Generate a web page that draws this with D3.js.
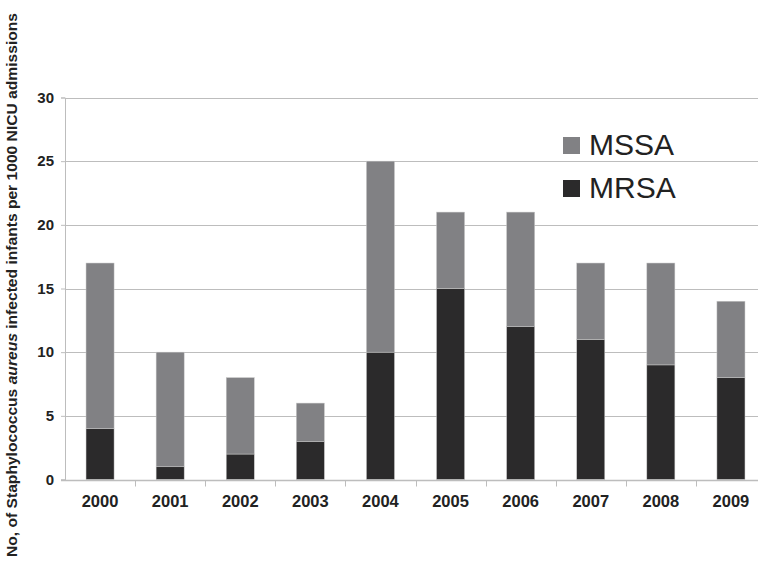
<!DOCTYPE html>
<html>
<head>
<meta charset="utf-8">
<script src="https://cdn.jsdelivr.net/npm/d3@7"></script>
<style>
  body { margin: 0; background: #fff; }
  text { font-family: "Liberation Sans", Arial, sans-serif; }
</style>
</head>
<body>
<div id="chart"></div>
<script>
// data
const years = ["2000", "2001", "2002", "2003", "2004", "2005", "2006", "2007", "2008", "2009"];
const mrsa = [4, 1, 2, 3, 10, 15, 12, 11, 9, 8];
const mssa = [13, 9, 6, 3, 15, 6, 9, 6, 8, 6];
const yTicks = [0, 5, 10, 15, 20, 25, 30];
const seriesNames = ["MSSA", "MRSA"];
const colors = { MSSA: "#818184", MRSA: "#2b2a2b" };

const width = 758, height = 569;
const plot = { left: 65, right: 766, top: 97.5, bottom: 479.5 };

const svg = d3.select("#chart").append("svg")
    .attr("width", width).attr("height", height);

// scales
const x = d3.scaleBand().domain(years)
    .range([plot.left, plot.right]).paddingInner(0.6).paddingOuter(0.3);
const y = d3.scaleLinear().domain([0, 30]).range([plot.bottom, plot.top]);

// gridlines
svg.append("g").attr("class", "yGrid")
    .selectAll("line").data(yTicks.filter(d => d > 0)).join("line")
    .attr("x1", plot.left).attr("x2", width)
    .attr("y1", d => Math.round(y(d)) + 0.5).attr("y2", d => Math.round(y(d)) + 0.5)
    .attr("stroke", "#bdbdbd").attr("stroke-width", 1);

// y axis
const yAxis = svg.append("g").attr("class", "y-axis")
    .attr("transform", "translate(" + plot.left + ",0)")
    .call(d3.axisLeft(y).tickValues(yTicks).tickSize(4).tickPadding(7));
yAxis.select(".domain").attr("stroke", "#bdbdbd");
yAxis.selectAll(".tick line").attr("stroke", "#bdbdbd");
yAxis.selectAll(".tick text").attr("fill", "#222")
    .style("font-size", "15px").style("font-weight", "bold")
    .style("font-family", "'Liberation Sans', Arial, sans-serif");

// stacked bars
const stackData = years.map((yr, i) => ({ year: yr, MRSA: mrsa[i], MSSA: mssa[i] }));
const stacked = d3.stack().keys(["MRSA", "MSSA"])(stackData);
svg.append("g").attr("class", "bars")
    .selectAll("g").data(stacked).join("g")
    .attr("fill", d => colors[d.key])
    .selectAll("rect").data(d => d).join("rect")
    .attr("x", d => x(d.data.year))
    .attr("width", x.bandwidth())
    .attr("y", d => y(d[1]))
    .attr("height", d => y(d[0]) - y(d[1]))
    .attr("stroke", "#c8c8c8").attr("stroke-width", 0.5);

// x axis baseline, separators and labels
const base = Math.round(y(0)) + 0.5;
svg.append("line").attr("x1", plot.left - 4).attr("x2", width)
    .attr("y1", base).attr("y2", base)
    .attr("stroke", "#bdbdbd").attr("stroke-width", 1.5);
const gapHalf = (x.step() - x.bandwidth()) / 2;
svg.append("g").attr("class", "x-sep")
    .selectAll("line").data(years.slice(1)).join("line")
    .attr("x1", d => Math.round(x(d) - gapHalf) + 0.5)
    .attr("x2", d => Math.round(x(d) - gapHalf) + 0.5)
    .attr("y1", base).attr("y2", base + 6)
    .attr("stroke", "#bdbdbd").attr("stroke-width", 1);
svg.append("g").attr("class", "x-labels")
    .selectAll("text").data(years).join("text")
    .attr("x", d => x(d) + x.bandwidth() / 2)
    .attr("y", 507)
    .attr("text-anchor", "middle")
    .attr("fill", "#222")
    .style("font-size", "16.5px").style("font-weight", "bold")
    .text(d => d);

// y-axis title
const title = svg.append("text").attr("transform", "translate(17,285) rotate(-90)")
    .attr("text-anchor", "middle").attr("fill", "#222")
    .attr("textLength", 544).attr("lengthAdjust", "spacingAndGlyphs")
    .style("font-size", "14.5px").style("font-weight", "bold");
title.append("tspan").text("No, of Staphylococcus ");
title.append("tspan").style("font-style", "italic").text("aureus");
title.append("tspan").text(" infected infants per 1000 NICU admissions");

// legend
const legend = svg.append("g").attr("class", "legend")
    .selectAll("g").data(seriesNames).join("g")
    .attr("transform", (d, i) => "translate(563," + (137 + i * 43) + ")");
legend.append("rect").attr("width", 17).attr("height", 17)
    .attr("fill", d => colors[d]);
legend.append("text").attr("x", 26).attr("y", 18)
    .attr("fill", "#222").style("font-size", "30px")
    .text(d => d);
</script>
</body>
</html>
